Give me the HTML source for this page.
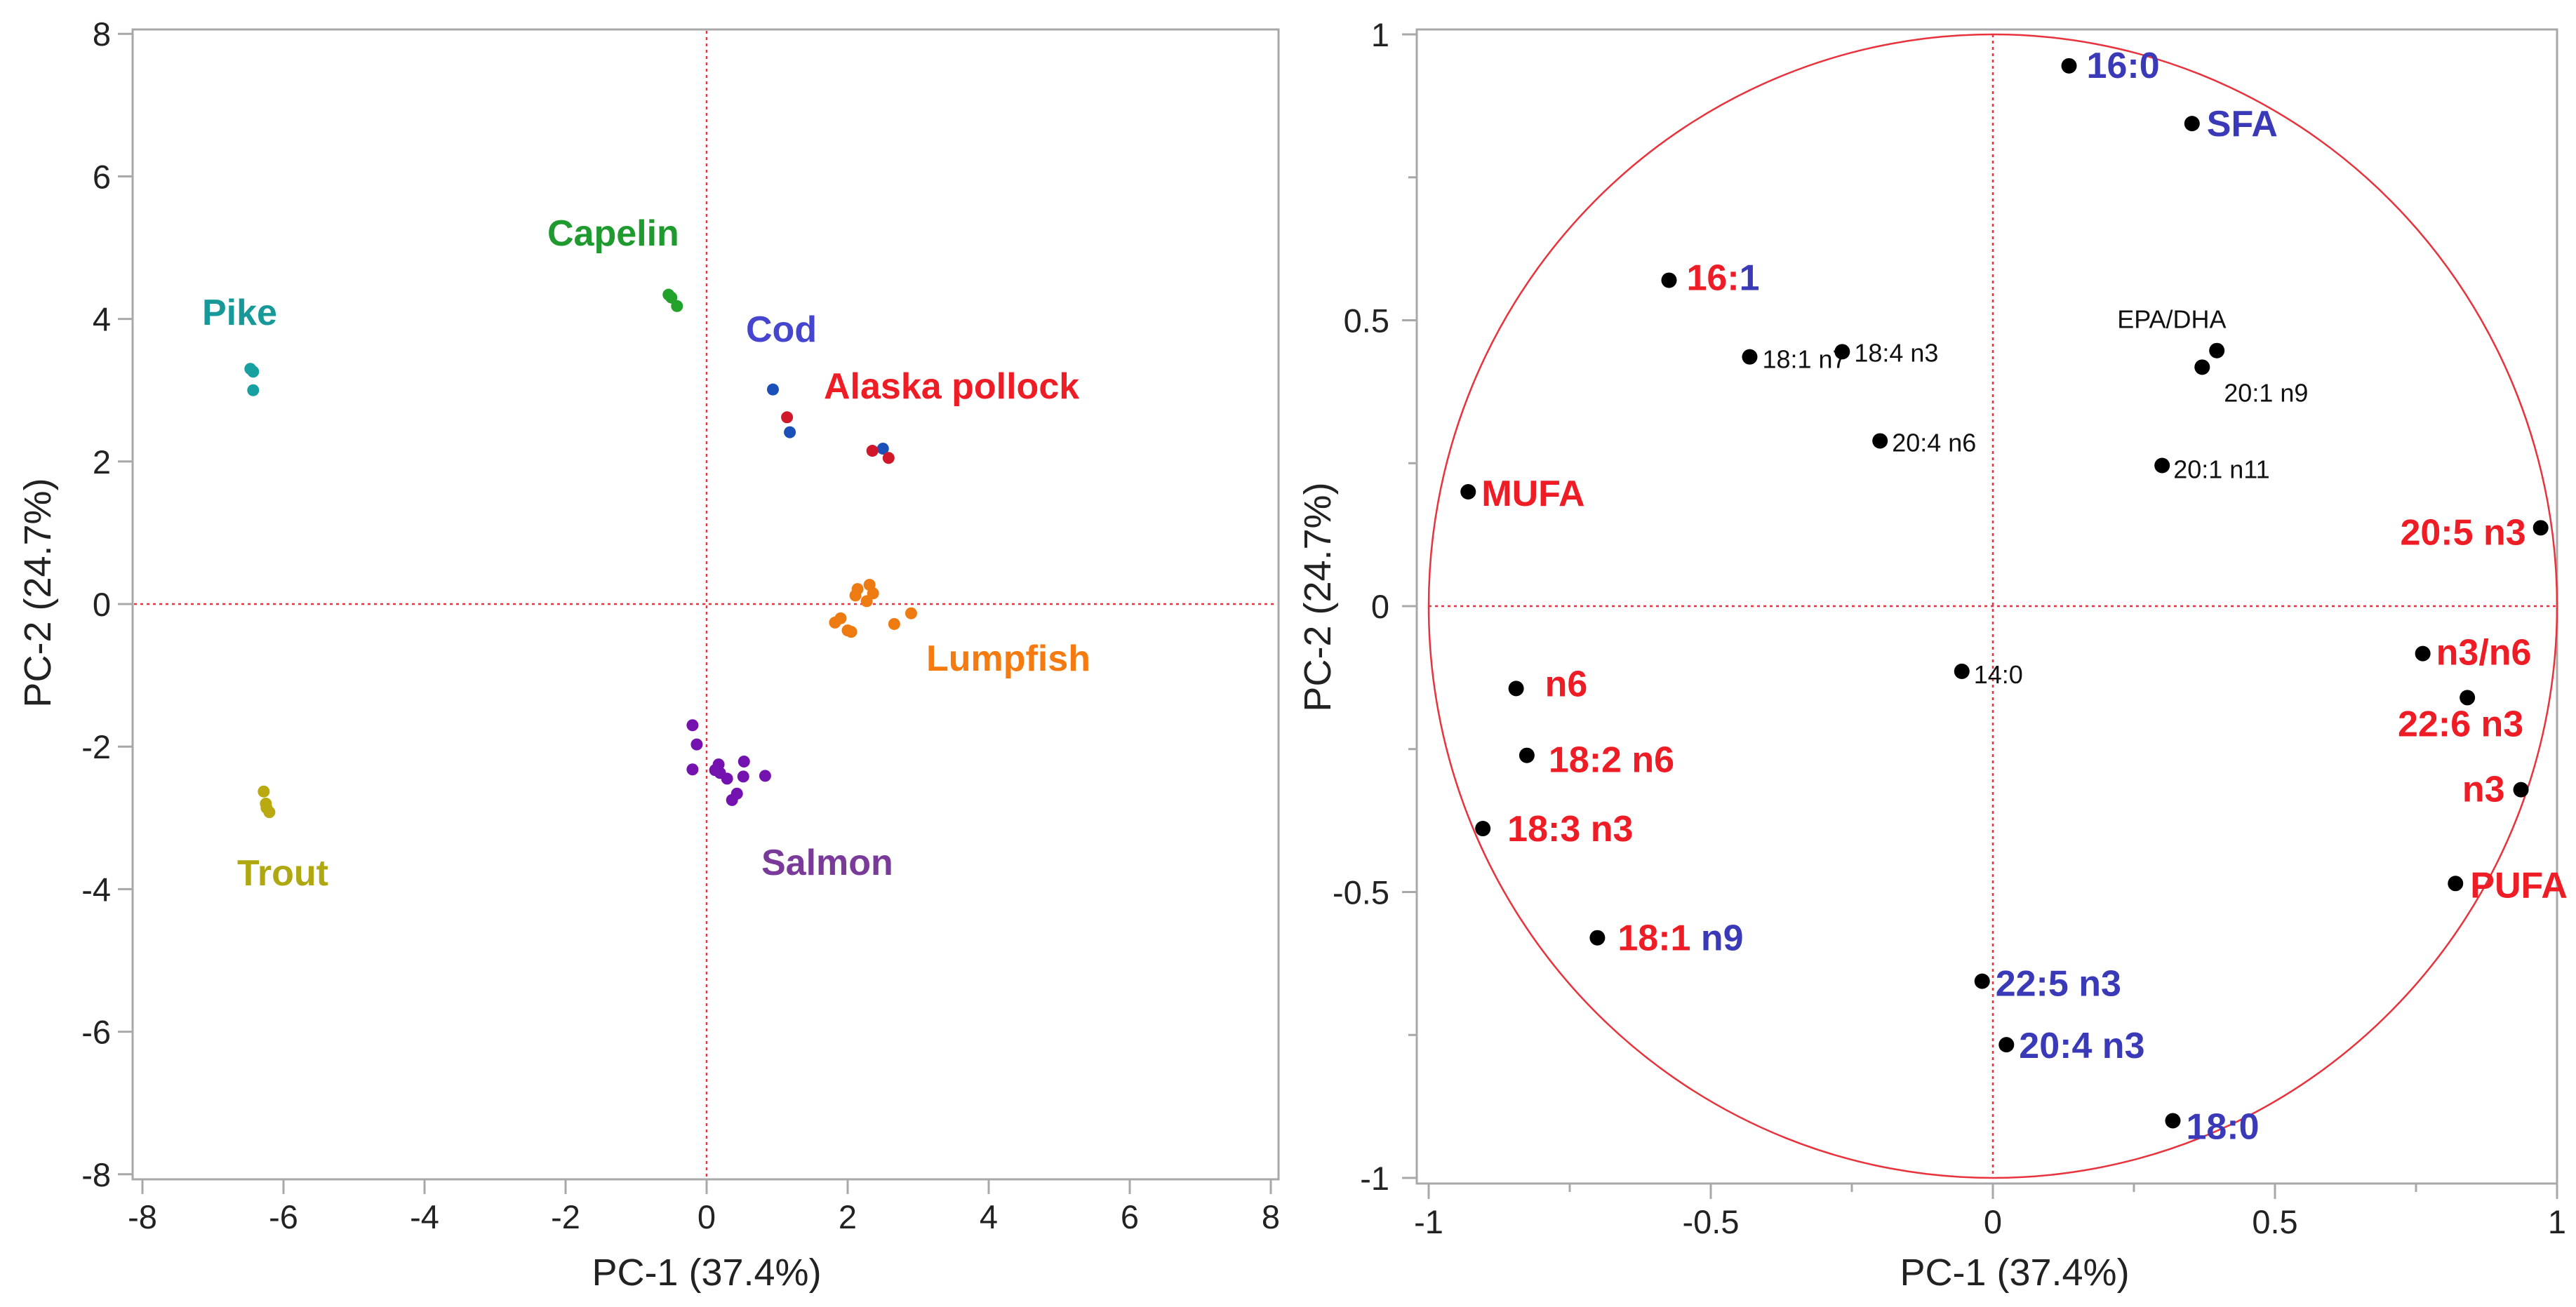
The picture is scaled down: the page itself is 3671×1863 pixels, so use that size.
<!DOCTYPE html>
<html><head><meta charset="utf-8"><style>
html,body{margin:0;padding:0;background:#fff;}
svg{display:block;font-family:"Liberation Sans",sans-serif;}
</style></head><body>
<svg id="chart" width="3671" height="1863" viewBox="0 0 3671 1863" xmlns="http://www.w3.org/2000/svg"></svg>
<script>
// ---------- Left score plot data ----------
const groupNames = ["Pike","Capelin","Cod","Alaska pollock","Lumpfish","Salmon","Trout"];
const pikeX = [-6.43,-6.43,-6.47];
const pikeY = [3.26,3.0,3.3];
const capelinX = [-0.54,-0.42,-0.5];
const capelinY = [4.34,4.18,4.3];
const codX = [0.94,1.18,2.5];
const codY = [3.01,2.41,2.18];
const pollockX = [1.14,2.35,2.58];
const pollockY = [2.62,2.15,2.05];
const lumpX = [2.11,2.14,2.31,2.36,2.27,1.82,1.9,2.0,2.05,2.66,2.9];
const lumpY = [0.12,0.21,0.27,0.15,0.04,-0.26,-0.2,-0.37,-0.39,-0.28,-0.13];
const salmonX = [-0.2,-0.14,-0.2,0.17,0.19,0.29,0.53,0.52,0.83,0.43,0.36,0.12];
const salmonY = [-1.7,-1.97,-2.32,-2.25,-2.37,-2.45,-2.21,-2.42,-2.41,-2.66,-2.75,-2.33];
const troutX = [-6.28,-6.25,-6.2,-6.24];
const troutY = [-2.63,-2.8,-2.92,-2.86];
const leftTicks = [-8,-6,-4,-2,0,2,4,6,8];

// ---------- Right loading plot data ----------
const varNames = ["16:0","SFA","16:1","18:1 n7","18:4 n3","EPA/DHA","20:1 n9","20:4 n6","20:1 n11","MUFA","20:5 n3","14:0","n3/n6","n6","22:6 n3","18:2 n6","n3","18:3 n3","PUFA","18:1 n9","22:5 n3","20:4 n3","18:0"];
const loadX = [0.135,0.353,-0.574,-0.431,-0.267,0.397,0.371,-0.2,0.3,-0.93,0.971,-0.055,0.762,-0.845,0.841,-0.826,0.936,-0.904,0.82,-0.701,-0.019,0.024,0.319];
const loadY = [0.945,0.844,0.57,0.436,0.445,0.447,0.418,0.289,0.246,0.2,0.137,-0.114,-0.083,-0.144,-0.16,-0.261,-0.321,-0.389,-0.485,-0.58,-0.656,-0.767,-0.9];
const rightTicks = [-1,-0.5,0,0.5,1];
const rightTickLabels = ["-1","-0.5","0","0.5","1"];
const rightMinor = [-0.75,-0.25,0.25,0.75];

const NS="http://www.w3.org/2000/svg";
const svg=document.getElementById('chart');
function mk(tag,attrs,parent){const e=document.createElementNS(NS,tag);for(const k in attrs)e.setAttribute(k,attrs[k]);(parent||svg).appendChild(e);return e;}

const lx = v => 1007 + v*100.5;
const ly = v => 861 - v*101.6;
const rx = v => 2840 + v*804;
const ry = v => 864 - v*815;
const GRAY="#a8a8a8", RED="#e8323c", BLUE="#3a3ab8", LRED="#ee1c25";

// ===== LEFT PLOT =====
const gL=mk('g',{});


const fL=mk('rect',{x:189,y:42,width:1633,height:1639,fill:'none',stroke:GRAY,'stroke-width':3},gL);


const zl1=mk('line',{x1:lx(0),y1:44,x2:lx(0),y2:1679,stroke:RED,'stroke-width':2.5,'stroke-dasharray':'4,5'},gL);


const zl2=mk('line',{x1:191,y1:ly(0),x2:1820,y2:ly(0),stroke:RED,'stroke-width':2.5,'stroke-dasharray':'4,5'},gL);


leftTicks.forEach(t=>{
  mk('line',{x1:lx(t),y1:1681,x2:lx(t),y2:1702,stroke:GRAY,'stroke-width':3},gL);
  const tx=mk('text',{x:lx(t),y:1751,'font-size':47,'text-anchor':'middle',fill:'#222'},gL);
  tx.textContent=t;
  
  
  mk('line',{x1:168,y1:ly(t),x2:189,y2:ly(t),stroke:GRAY,'stroke-width':3},gL);
  const ty=mk('text',{x:158,y:ly(t)+17,'font-size':47,'text-anchor':'end',fill:'#222'},gL);
  ty.textContent=t;
  
  
});
const xtL=mk('text',{x:1007,y:1832,'font-size':54,'text-anchor':'middle',fill:'#222'},gL);
xtL.textContent='PC-1 (37.4%)';


const ytL=mk('text',{x:0,y:0,'font-size':54,'text-anchor':'middle',fill:'#222',transform:'translate(72,845) rotate(-90)'},gL);
ytL.textContent='PC-2 (24.7%)';



const groups=[
  {xs:pikeX,ys:pikeY,col:'#17a0a0',lab:'#17999a',lx:288,ly:463},
  {xs:capelinX,ys:capelinY,col:'#22a22a',lab:'#1f9a2f',lx:780,ly:350},
  {xs:codX,ys:codY,col:'#1a50b8',lab:'#4545d0',lx:1063,ly:487},
  {xs:pollockX,ys:pollockY,col:'#d0182a',lab:'#ee1c25',lx:1174,ly:568},
  {xs:lumpX,ys:lumpY,col:'#ee7a12',lab:'#f57a10',lx:1320,ly:956},
  {xs:salmonX,ys:salmonY,col:'#7412b0',lab:'#7a3a9a',lx:1085,ly:1247},
  {xs:troutX,ys:troutY,col:'#b8aa10',lab:'#b0a812',lx:338,ly:1262}
];
groups.forEach((g,i)=>{
  g.xs.forEach((v,j)=>{
    const c=mk('circle',{cx:lx(v),cy:ly(g.ys[j]),r:8.5,fill:g.col},gL);
    
    
  });
  const t=mk('text',{x:g.lx,y:g.ly,'font-size':52,'font-weight':'bold',fill:g.lab},gL);
  t.textContent=groupNames[i];
  
  
});

// ===== RIGHT PLOT =====
const gR=mk('g',{});


const fR=mk('rect',{x:2019,y:42,width:1625,height:1645,fill:'none',stroke:GRAY,'stroke-width':3},gR);


const circ=mk('ellipse',{cx:rx(0),cy:ry(0),rx:804,ry:815,fill:'none',stroke:RED,'stroke-width':2.5},gR);


const rz1=mk('line',{x1:rx(0),y1:ry(1),x2:rx(0),y2:ry(-1),stroke:RED,'stroke-width':2.5,'stroke-dasharray':'4,5'},gR);


const rz2=mk('line',{x1:rx(-1),y1:ry(0),x2:rx(1),y2:ry(0),stroke:RED,'stroke-width':2.5,'stroke-dasharray':'4,5'},gR);


rightTicks.forEach((t,i)=>{
  mk('line',{x1:rx(t),y1:1687,x2:rx(t),y2:1709,stroke:GRAY,'stroke-width':3},gR);
  const tx=mk('text',{x:rx(t),y:1758,'font-size':47,'text-anchor':'middle',fill:'#222'},gR);
  tx.textContent=rightTickLabels[i];
  
  
  mk('line',{x1:1998,y1:ry(t),x2:2019,y2:ry(t),stroke:GRAY,'stroke-width':3},gR);
  const ty=mk('text',{x:1980,y:ry(t)+17,'font-size':47,'text-anchor':'end',fill:'#222'},gR);
  ty.textContent=rightTickLabels[i];
  
  
});
rightMinor.forEach(t=>{
  mk('line',{x1:rx(t),y1:1687,x2:rx(t),y2:1699,stroke:GRAY,'stroke-width':3},gR);
  mk('line',{x1:2007,y1:ry(t),x2:2019,y2:ry(t),stroke:GRAY,'stroke-width':3},gR);
});
const xtR=mk('text',{x:2871,y:1832,'font-size':54,'text-anchor':'middle',fill:'#222'},gR);
xtR.textContent='PC-1 (37.4%)';


const ytR=mk('text',{x:0,y:0,'font-size':54,'text-anchor':'middle',fill:'#222',transform:'translate(1896,851) rotate(-90)'},gR);
ytR.textContent='PC-2 (24.7%)';



const labStyle = {
 "16:0":[25,17,'start','b'],"SFA":[21,18,'start','b'],"16:1":[25,14,'start','m'],
 "18:1 n7":[18,16,'start','s'],"18:4 n3":[17,14,'start','s'],"EPA/DHA":[-142,-32,'start','s'],
 "20:1 n9":[31,49,'start','s'],"20:4 n6":[17,15,'start','s'],"20:1 n11":[16,18,'start','s'],
 "MUFA":[19,20,'start','r'],"20:5 n3":[-21,24,'end','r'],"14:0":[17,17,'start','s'],
 "n3/n6":[19,16,'start','r'],"n6":[41,11,'start','r'],"22:6 n3":[80,55,'end','r'],
 "18:2 n6":[31,24,'start','r'],"n3":[-23,17,'end','r'],"18:3 n3":[35,18,'start','r'],
 "PUFA":[21,20,'start','r'],"18:1 n9":[29,18,'start','m'],"22:5 n3":[19,21,'start','b'],
 "20:4 n3":[18,19,'start','b'],"18:0":[19,26,'start','b']
};
varNames.forEach((n,i)=>{
  const px=rx(loadX[i]), py=ry(loadY[i]);
  const c=mk('circle',{cx:px,cy:py,r:11,fill:'#000'},gR);
  
  
  const s=labStyle[n];
  const attrs={x:px+s[0],y:py+s[1],'text-anchor':s[2]};
  if(s[3]==='s'){attrs['font-size']=36;attrs.fill='#111';}
  else{attrs['font-size']=52;attrs['font-weight']='bold';attrs.fill=(s[3]==='b')?BLUE:LRED;}
  const t=mk('text',attrs,gR);
  if(s[3]==='m'){
    const parts=n.split(' ');
    if(parts.length>1){
      const a=mk('tspan',{fill:LRED},t);a.textContent=parts[0]+' ';
      const b=mk('tspan',{fill:BLUE},t);b.textContent=parts[1];
    } else {
      const a=mk('tspan',{fill:LRED},t);a.textContent=n.slice(0,3);
      const b=mk('tspan',{fill:BLUE},t);b.textContent=n.slice(3);
    }
  } else t.textContent=n;
  
  
});
</script>
</body></html>
